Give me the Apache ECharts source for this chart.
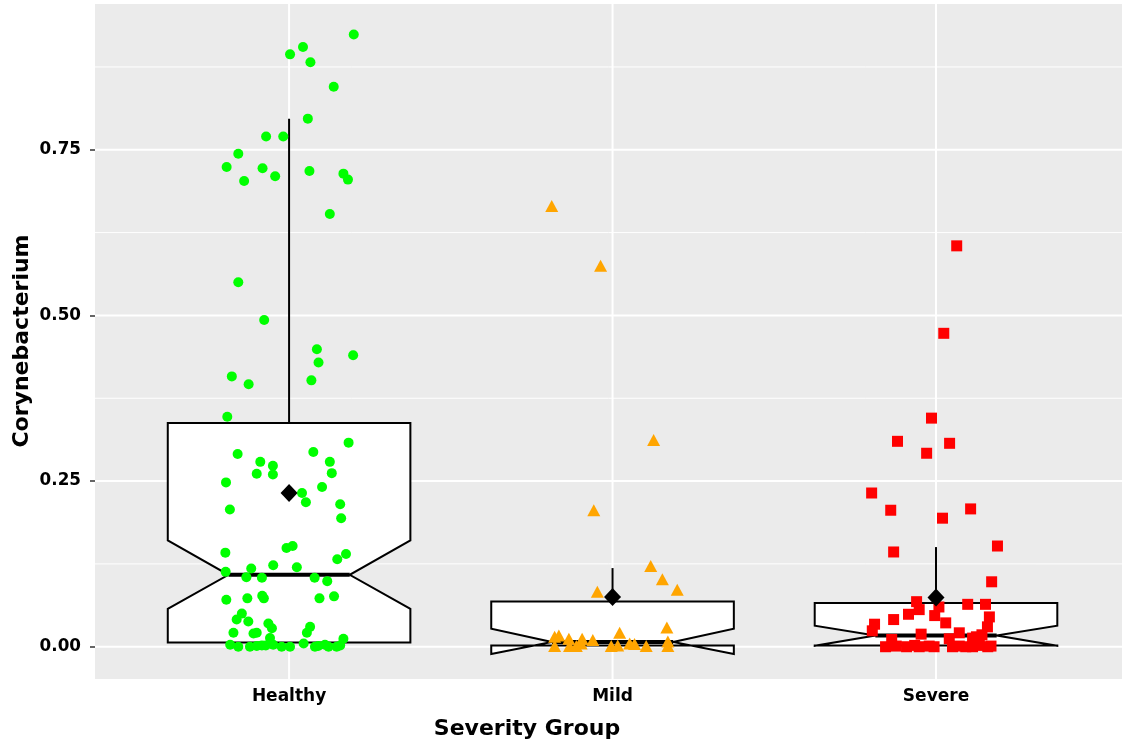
<!DOCTYPE html>
<html><head><meta charset="utf-8">
<script src="https://cdn.jsdelivr.net/npm/echarts@6/dist/echarts.min.js"></script>
<style>html,body{margin:0;padding:0;background:#fff}#c{width:1122px;height:746px}</style>
</head><body><div id="c"></div>
<script>
const categories = ['Healthy', 'Mild', 'Severe'];
const yTicks = [0, 0.25, 0.5, 0.75];
const yMinor = [0.125, 0.375, 0.625, 0.875];

// notched box statistics per group
const whiskerLow  = [0, 0, 0];
const q1          = [0.0065, 0.002, 0.002];
const notchLow    = [0.0573, -0.011, 0.0015];
const median      = [0.1086, 0.0071, 0.017];
const notchHigh   = [0.1604, 0.0272, 0.0317];
const q3          = [0.3375, 0.0684, 0.0659];
const whiskerHigh = [0.7967, 0.1187, 0.1504];
const means       = [0.2319, 0.075, 0.0744];

// jittered points: [jitter offset, value]
const healthyPts = [[0.200,0.924],[0.043,0.905],[0.003,0.894],[0.066,0.882],[0.138,0.845],[0.058,0.797],[-0.071,0.770],[-0.018,0.770],[-0.157,0.744],[-0.193,0.724],[-0.082,0.722],[-0.043,0.710],[-0.139,0.703],[0.063,0.718],[0.168,0.714],[0.182,0.705],[0.126,0.653],[-0.157,0.550],[-0.077,0.493],
[0.086,0.449],[0.198,0.440],[0.091,0.429],[0.069,0.402],[-0.177,0.408],[-0.125,0.396],[-0.191,0.347],[0.184,0.308],[-0.159,0.291],[0.075,0.294],[-0.089,0.279],[-0.050,0.273],[-0.100,0.261],[-0.050,0.260],[0.126,0.279],[0.132,0.262],[-0.195,0.248],[0.102,0.241],[0.040,0.232],[0.052,0.218],[-0.183,0.207],[0.158,0.215],[0.161,0.194],[-0.008,0.149],[0.011,0.152],[-0.197,0.142],[0.176,0.140],[0.149,0.132],[-0.196,0.113],[-0.117,0.118],[-0.049,0.123],[0.024,0.120],[-0.132,0.105],[-0.084,0.104],[0.079,0.104],[0.118,0.099],[-0.194,0.071],[-0.129,0.073],[-0.083,0.077],[-0.078,0.073],[0.094,0.073],[0.139,0.076],
[-0.146,0.050],[-0.162,0.041],[-0.126,0.038],[-0.064,0.035],[-0.053,0.028],[0.065,0.030],[-0.172,0.021],[-0.110,0.020],[-0.100,0.021],[0.055,0.021],[-0.059,0.013],[0.168,0.012],[-0.182,0.003],[-0.157,0.000],[-0.121,0.000],[-0.100,0.001],[-0.084,0.002],[-0.072,0.002],[-0.049,0.003],[-0.023,0.000],[0.003,0.000],[0.045,0.005],[0.080,0.000],[0.090,0.001],[0.111,0.003],[0.122,0.000],[0.147,0.000],[0.158,0.002]];
const mildPts = [[-0.188,0.665],[-0.037,0.575],[0.127,0.312],[-0.058,0.206],[0.118,0.122],[0.154,0.102],[0.200,0.086],[-0.047,0.083],[0.168,0.029],
[-0.179,0.015],[-0.166,0.017],[-0.135,0.012],[-0.094,0.012],[-0.061,0.010],[0.022,0.021],[0.171,0.008],[-0.179,0.001],[-0.133,0.001],[-0.112,0.001],[-0.097,0.005],[-0.004,0.001],[0.016,0.002],[0.053,0.005],[0.068,0.004],[0.104,0.001],[0.171,0.001]];
const severePts = [[0.064,0.605],[0.024,0.473],[-0.014,0.345],[-0.119,0.310],[0.042,0.307],[-0.029,0.292],[-0.199,0.232],[-0.140,0.206],[0.107,0.208],[0.020,0.194],[0.190,0.152],[-0.131,0.143],[0.172,0.098],[-0.060,0.068],[0.098,0.064],[0.153,0.064],[-0.052,0.056],[-0.085,0.049],[0.009,0.060],[0.165,0.045],[-0.004,0.047],[-0.131,0.041],[0.030,0.036],[-0.190,0.034],[-0.197,0.024],[0.159,0.030],[0.072,0.021],[-0.046,0.019],[0.142,0.018],[-0.137,0.011],[0.041,0.012],[0.113,0.013],[0.125,0.015],
[-0.156,0.000],[-0.123,0.001],[-0.091,0.000],[-0.066,0.002],[-0.052,0.000],[-0.021,0.001],[-0.006,0.000],[0.051,0.000],[0.072,0.001],[0.092,0.000],[0.113,0.000],[0.134,0.002],[0.160,0.000],[0.170,0.001]];

const FONT = 'DejaVu Sans';
const HALF = 0.375, NOTCH = 0.1875;
const toXY = (pts, k) => pts.map(p => [k + 1 + p[0], p[1]]);
const boxData = categories.map((c, i) => [i + 1, whiskerLow[i], q1[i], notchLow[i], median[i], notchHigh[i], q3[i], whiskerHigh[i]]);

function renderBox(params, api) {
  const x = api.value(0);
  const P = (dx, v) => api.coord([x + dx, v]);
  const lo = api.value(1), a = api.value(2), nl = api.value(3), m = api.value(4), nh = api.value(5), b = api.value(6), hi = api.value(7);
  const poly = [P(-HALF, b), P(HALF, b), P(HALF, nh), P(NOTCH, m), P(HALF, nl), P(HALF, a), P(-HALF, a), P(-HALF, nl), P(-NOTCH, m), P(-HALF, nh)];
  const ln = (p1, p2, w) => ({ type: 'line', shape: { x1: p1[0], y1: p1[1], x2: p2[0], y2: p2[1] }, style: { stroke: '#000', lineWidth: w } });
  return { type: 'group', children: [
    ln(P(0, b), P(0, hi), 2),
    ln(P(0, a), P(0, lo), 2),
    { type: 'polygon', shape: { points: poly }, style: { fill: '#fff', stroke: '#000', lineWidth: 2, lineJoin: 'miter' } },
    ln(P(-NOTCH, m), P(NOTCH, m), 4)
  ]};
}

// gridline items: [orientation (0 = horizontal, 1 = vertical), value, width]
const gridData = [];
yTicks.forEach(v => gridData.push([0, v, 2]));
yMinor.forEach(v => gridData.push([0, v, 1]));
[1, 2, 3].forEach(v => gridData.push([1, v, 2]));

function renderGrid(params, api) {
  const cs = params.coordSys;
  const o = api.value(0), v = api.value(1), w = api.value(2);
  let shape;
  if (o === 0) {
    const y = api.coord([1, v])[1];
    shape = { x1: cs.x, y1: y, x2: cs.x + cs.width, y2: y };
  } else {
    const x = api.coord([v, 0])[0];
    shape = { x1: x, y1: cs.y, x2: x, y2: cs.y + cs.height };
  }
  return { type: 'line', shape: shape, style: { stroke: '#fff', lineWidth: w } };
}

const chart = echarts.init(document.getElementById('c'), null, { renderer: 'canvas' });
chart.setOption({
  animation: false,
  backgroundColor: '#fff',
  grid: { left: 95, right: 0, top: 4, bottom: 67, show: true, backgroundColor: '#EBEBEB', borderWidth: 0 },
  xAxis: {
    type: 'value', min: 0.4, max: 3.575,
    splitLine: { show: false }, axisLine: { show: false },
    axisTick: { show: true, customValues: [1, 2, 3], length: 5, lineStyle: { color: '#333', width: 1.5 } },
    axisLabel: { customValues: [1, 2, 3], formatter: v => categories[Math.round(v) - 1], color: '#000', fontFamily: FONT, fontWeight: 'bold', fontSize: 17, margin: 9 }
  },
  yAxis: {
    type: 'value', min: -0.0487, max: 0.970,
    splitLine: { show: false }, axisLine: { show: false },
    axisTick: { show: true, customValues: yTicks, length: 5, lineStyle: { color: '#333', width: 1.5 } },
    axisLabel: { customValues: yTicks, formatter: v => v.toFixed(2), color: '#000', fontFamily: FONT, fontWeight: 'bold', fontSize: 16.8, margin: 14 }
  },
  graphic: [
    { type: 'text', x: 527, y: 729, style: { text: 'Severity Group', fill: '#000', font: 'bold 22px "DejaVu Sans"', textAlign: 'center', textVerticalAlign: 'middle' } },
    { type: 'text', x: 22, y: 341, rotation: Math.PI / 2, style: { text: 'Corynebacterium', fill: '#000', font: 'bold 22px "DejaVu Sans"', textAlign: 'center', textVerticalAlign: 'middle' } }
  ],
  series: [
    { type: 'custom', renderItem: renderGrid, data: gridData, z: 1, silent: true, clip: false },
    { type: 'custom', renderItem: renderBox, data: boxData, z: 2, silent: true },
    { type: 'scatter', data: toXY(healthyPts, 0), symbol: 'circle', symbolSize: 10, itemStyle: { color: '#00FF00', opacity: 1 }, z: 3 },
    { type: 'scatter', data: toXY(mildPts, 1), symbol: 'triangle', symbolSize: [13, 12], itemStyle: { color: '#FFA500', opacity: 1 }, z: 3 },
    { type: 'scatter', data: toXY(severePts, 2), symbol: 'rect', symbolSize: 11, itemStyle: { color: '#FF0000', opacity: 1 }, z: 3 },
    { type: 'scatter', data: means.map((m, i) => [i + 1, m]), symbol: 'diamond', symbolSize: [17, 18], itemStyle: { color: '#000', opacity: 1 }, z: 4 }
  ]
});
</script>
</body></html>
